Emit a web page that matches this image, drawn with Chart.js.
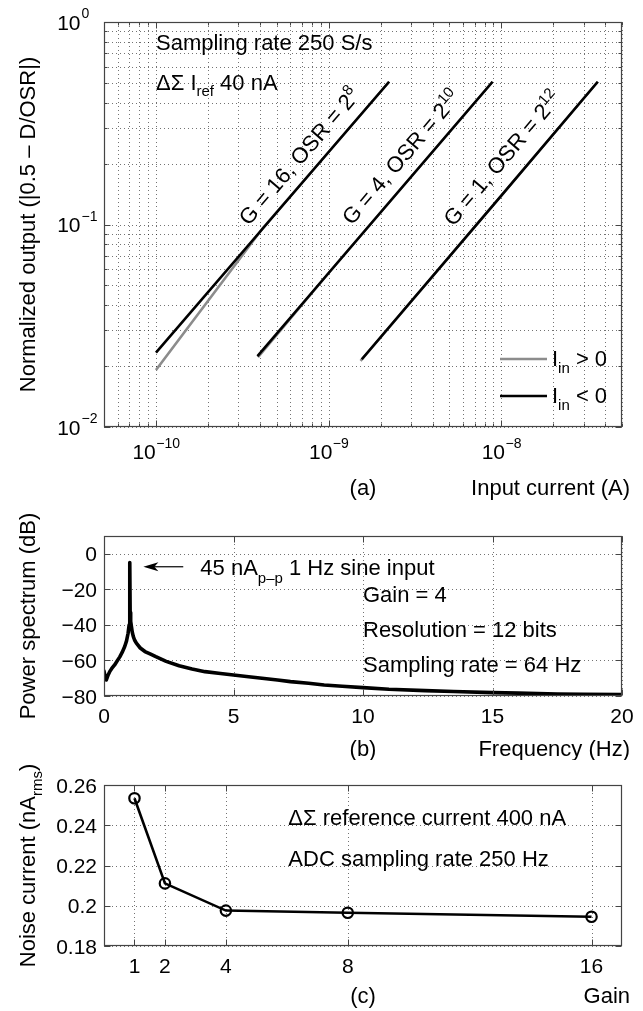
<!DOCTYPE html>
<html><head><meta charset="utf-8">
<script src="https://cdn.jsdelivr.net/npm/chart.js@4.4.1/dist/chart.umd.min.js"></script>
<style>
html,body{margin:0;padding:0;background:#fff;}
#wrap{position:relative;width:643px;height:1011px;overflow:hidden;background:#fff;}
canvas{position:absolute;left:0;}
</style></head><body>
<div id="wrap">
<canvas id="ca" width="643" height="500" style="top:0px"></canvas>
<canvas id="cb" width="643" height="260" style="top:500px"></canvas>
<canvas id="cc" width="643" height="251" style="top:760px"></canvas>
</div>
<script>
// ---------------- DATA: panel (a) ----------------
const currentG16Pos = [1.0e-10, 4.15e-10, 1.0e-9, 2.24e-9];
const outputG16Pos  = [0.0191, 0.0958, 0.228, 0.507];
const currentG16Neg = [1.0e-10, 1.0e-9, 2.24e-9];
const outputG16Neg  = [0.0233, 0.228, 0.507];
const currentG4Pos  = [3.9e-10, 1.0e-9, 8.9e-9];
const outputG4Pos   = [0.0221, 0.0576, 0.507];
const currentG4Neg  = [3.87e-10, 1.0e-9, 8.9e-9];
const outputG4Neg   = [0.0224, 0.0576, 0.507];
const currentG1Pos  = [1.53e-9, 1.0e-8, 3.62e-8];
const outputG1Pos   = [0.0212, 0.139, 0.507];
const currentG1Neg  = [1.556e-9, 1.0e-8, 3.62e-8];
const outputG1Neg   = [0.0216, 0.139, 0.507];
const aXTickValues = [1e-10, 1e-9, 1e-8];
const aXTickExps   = ['\u221210', '\u22129', '\u22128'];
const aYTickValues = [1e-2, 1e-1, 1];
const aYTickExps   = ['\u22122', '\u22121', '0'];
const logMantissas = [1,2,3,4,5,6,7,8,9];

// ---------------- DATA: panel (b) ----------------
const freqHz  = [0, 0.04, 0.09, 0.15, 0.22, 0.3, 0.41, 0.5, 0.61, 0.7,
                 0.8, 0.87, 0.93, 0.97, 0.99, 1.0, 1.01, 1.03, 1.06, 1.09,
                 1.13, 1.18, 1.25, 1.4, 1.58, 1.8, 2.0, 2.4, 2.9, 3.4,
                 3.9, 4.5, 5.0, 5.5, 6.1, 6.7, 7.2, 7.9, 8.5, 9.2,
                 10.0, 11.0, 12.4, 13.5, 15.0, 16.0, 17.5, 18.5, 20.0];
const powerDb = [-66, -69, -71, -68.5, -66.3, -64.5, -62.5, -60.5, -58, -55.5,
                 -52.2, -49, -44.7, -40, -35, -4.9, -33, -38, -41, -44,
                 -46.5, -48.5, -50.3, -53, -55, -56.5, -57.9, -60.5, -63, -64.8,
                 -66.3, -67.3, -68.2, -69, -70, -71, -71.9, -72.8, -73.8, -74.5,
                 -75.3, -76.2, -77, -77.5, -78.1, -78.4, -78.9, -79, -79.2];
const bXTicks = [0, 5, 10, 15, 20];
const bYTicks = [0, -20, -40, -60, -80];
const bYTickLabels = ['0', '\u221220', '\u221240', '\u221260', '\u221280'];

// ---------------- DATA: panel (c) ----------------
const gains   = [1, 2, 4, 8, 16];
const noiseNA = [0.2534, 0.2111, 0.1976, 0.1965, 0.1945];
const cXTicks = [1, 2, 4, 8, 16];
const cYTicks = [0.18, 0.2, 0.22, 0.24, 0.26];
const cYTickLabels = ['0.18', '0.2', '0.22', '0.24', '0.26'];

// ---------------- helpers ----------------
const FONT = '"Liberation Sans", Arial, Helvetica, sans-serif';
const TXT = 22, TICK = 21, SMALL = 15;
function fnt(s){ return s + 'px ' + FONT; }
function zip(xs, ys){ return xs.map((v,i)=>({x:v, y:ys[i]})); }
function ln(ctx,x1,y1,x2,y2){ ctx.beginPath(); ctx.moveTo(x1,y1); ctx.lineTo(x2,y2); ctx.stroke(); }
// parts: [text, size, dy]
function rich(ctx, parts, x, y, align){
  let total = 0;
  const w = parts.map(p=>{ ctx.font = fnt(p[1]); const m = ctx.measureText(p[0]).width; total += m; return m; });
  let cx = align==='center' ? x - total/2 : (align==='right' ? x - total : x);
  ctx.textAlign = 'left'; ctx.textBaseline = 'alphabetic'; ctx.fillStyle = '#000';
  parts.forEach((p,i)=>{ ctx.font = fnt(p[1]); ctx.fillText(p[0], cx, y + (p[2]||0)); cx += w[i]; });
}
function mid(size){ return 0.36*size; }
function decadeGrid(lo, hi){
  const out = [];
  for (let e = Math.floor(Math.log10(lo)); e <= Math.ceil(Math.log10(hi)); e++){
    logMantissas.forEach(m=>{ const v = m*Math.pow(10,e); if (v >= lo*0.999 && v <= hi*1.001) out.push(v); });
  }
  return out;
}
function gridDots(chart, xs, ys){
  const {ctx, chartArea:ca, scales:{x,y}} = chart;
  ctx.save(); ctx.setLineDash([1,3]); ctx.strokeStyle = 'rgba(0,0,0,0.55)'; ctx.lineWidth = 1;
  xs.forEach(v=>{ const p = Math.round(x.getPixelForValue(v))+0.5; ln(ctx,p,ca.top,p,ca.bottom); });
  ys.forEach(v=>{ const p = Math.round(y.getPixelForValue(v))+0.5; ln(ctx,ca.left,p,ca.right,p); });
  ctx.restore();
}
function frameTicks(chart, xMaj, yMaj, xMin, yMin){
  const {ctx, chartArea:ca, scales:{x,y}} = chart;
  ctx.save(); ctx.setLineDash([]); ctx.strokeStyle = '#444'; ctx.lineWidth = 1.2;
  const L = Math.round(ca.left)+0.5, R = Math.round(ca.right)-0.5, T = Math.round(ca.top)+0.5, B = Math.round(ca.bottom)-0.5;
  ctx.strokeRect(L, T, R-L, B-T);
  ctx.lineWidth = 1;
  const xt = (vals,len)=>vals.forEach(v=>{ const p = Math.round(x.getPixelForValue(v))+0.5; ln(ctx,p,B,p,B-len); ln(ctx,p,T,p,T+len); });
  const yt = (vals,len)=>vals.forEach(v=>{ const p = Math.round(y.getPixelForValue(v))+0.5; ln(ctx,L,p,L+len,p); ln(ctx,R,p,R-len,p); });
  xt(xMaj,6); yt(yMaj,6);
  if (xMin) xt(xMin,3);
  if (yMin) yt(yMin,3);
  ctx.restore();
}
function yTitle(ctx, parts, cx, cy){
  ctx.save(); ctx.translate(cx, cy); ctx.rotate(-Math.PI/2);
  rich(ctx, parts, 0, mid(TXT), 'center'); ctx.restore();
}
const fixW = w => (s)=>{ s.width = w; };
const fixH = h => (s)=>{ s.height = h; };
const baseOpts = (padTop, xH, xScale, yScale)=>({
  responsive:false, animation:false, devicePixelRatio:1,
  layout:{padding:{top:padTop, right:21, left:0, bottom:0}},
  plugins:{legend:{display:false}, tooltip:{enabled:false}},
  elements:{point:{radius:0}, line:{tension:0}},
  scales:{
    x: Object.assign({ticks:{display:false}, grid:{display:false}, border:{display:false}, afterFit:fixH(xH)}, xScale),
    y: Object.assign({ticks:{display:false}, grid:{display:false}, border:{display:false}, afterFit:fixW(104)}, yScale)
  }
});

// ---------------- annotations (positions in data space) ----------------
const annA = {
  notes: [
    {x:1e-10, y:0.80,  parts:[['Sampling rate 250 S/s',TXT]]},
    {x:1e-10, y:0.507, parts:[['\u0394\u03A3 I',TXT],['ref',SMALL,6],[' 40 nA',TXT]]}
  ],
  rotated: [
    {x:6.73e-10, y:0.218,  parts:[['G = 16, OSR = 2',TXT],['8',SMALL,-9]],  lineX:currentG16Neg, lineY:outputG16Neg},
    {x:2.62e-9,  y:0.2155, parts:[['G = 4, OSR = 2',TXT],['10',SMALL,-9]],  lineX:currentG4Neg, lineY:outputG4Neg},
    {x:1.009e-8, y:0.213,  parts:[['G = 1, OSR = 2',TXT],['12',SMALL,-9]],  lineX:currentG1Neg, lineY:outputG1Neg}
  ]
};
const annB = [
  {x:10.0, y:-22.5, parts:[['Gain = 4',TXT]]},
  {x:10.0, y:-42.3, parts:[['Resolution = 12 bits',TXT]]},
  {x:10.0, y:-62.0, parts:[['Sampling rate = 64 Hz',TXT]]}
];
const annBArrow = {x0:3.06, x1:1.52, y:-7.3, textX:3.72};
const annC = [
  {x:6.05, y:0.2441, parts:[['\u0394\u03A3 reference current 400 nA',TXT]]},
  {x:6.05, y:0.2237, parts:[['ADC sampling rate 250 Hz',TXT]]}
];

// ---------------- panel (a) ----------------
const aXMin = 5e-11, aXMax = 5e-8, aYMin = 0.01, aYMax = 1;
const plugA = {
  id:'pa',
  beforeDatasetsDraw(chart){ gridDots(chart, decadeGrid(aXMin,aXMax), decadeGrid(aYMin,aYMax)); },
  afterDatasetsDraw(chart){
    const {ctx, chartArea:ca, scales:{x,y}} = chart;
    const xg = decadeGrid(aXMin,aXMax), yg = decadeGrid(aYMin,aYMax);
    frameTicks(chart, aXTickValues, aYTickValues, xg, yg);
    aYTickValues.forEach((v,i)=>{
      const p = y.getPixelForValue(v);
      rich(ctx, [['10',TICK]], 80.5, p + mid(TICK), 'right');
      rich(ctx, [[aYTickExps[i],14]], 81.5, p - 4, 'left');
    });
    aXTickValues.forEach((v,i)=>{
      const p = x.getPixelForValue(v);
      ctx.font = fnt(TICK); const w1 = ctx.measureText('10').width;
      ctx.font = fnt(14); const w2 = ctx.measureText(aXTickExps[i]).width;
      const s = p - (w1+w2)/2;
      rich(ctx, [['10',TICK]], s, 459, 'left');
      rich(ctx, [[aXTickExps[i],14]], s + w1 + 0.5, 448, 'left');
    });
    yTitle(ctx, [['Normalized output (|0.5 \u2013 D/OSR|)',TXT]], 27, (ca.top+ca.bottom)/2);
    rich(ctx, [['(a)',TXT]], (ca.left+ca.right)/2, 487 + mid(TXT), 'center');
    rich(ctx, [['Input current (A)',TXT]], 630, 487 + mid(TXT), 'right');
    annA.notes.forEach(n=>{ rich(ctx, n.parts, x.getPixelForValue(n.x), y.getPixelForValue(n.y) + mid(TXT), 'left'); });
    annA.rotated.forEach(n=>{
      const x0 = x.getPixelForValue(n.lineX[0]), y0 = y.getPixelForValue(n.lineY[0]);
      const x1 = x.getPixelForValue(n.lineX[n.lineX.length-1]), y1 = y.getPixelForValue(n.lineY[n.lineY.length-1]);
      ctx.save(); ctx.translate(x.getPixelForValue(n.x), y.getPixelForValue(n.y));
      ctx.rotate(Math.atan2(y1-y0, x1-x0));
      rich(ctx, n.parts, 0, mid(TXT), 'center'); ctx.restore();
    });
    const rows = [{c:'#8c8c8c', t:' > 0', yy:ca.bottom-68}, {c:'#000', t:' < 0', yy:ca.bottom-31}];
    rows.forEach(r=>{
      ctx.save(); ctx.strokeStyle = r.c; ctx.lineWidth = 2.6; ln(ctx, ca.right-122, r.yy, ca.right-75, r.yy); ctx.restore();
      rich(ctx, [['I',TXT],['in',SMALL,7],[r.t,TXT]], ca.right-70, r.yy + mid(TXT) - 1, 'left');
    });
  }
};
const grayA = '#8c8c8c';
new Chart(document.getElementById('ca'), {
  type:'line',
  data:{datasets:[
    {label:'G16 Iin>0', data:zip(currentG16Pos,outputG16Pos), borderColor:grayA, borderWidth:2.6, order:2},
    {label:'G4 Iin>0',  data:zip(currentG4Pos,outputG4Pos),   borderColor:grayA, borderWidth:2.6, order:2},
    {label:'G1 Iin>0',  data:zip(currentG1Pos,outputG1Pos),   borderColor:grayA, borderWidth:2.6, order:2},
    {label:'G16 Iin<0', data:zip(currentG16Neg,outputG16Neg), borderColor:'#000', borderWidth:2.6, order:1},
    {label:'G4 Iin<0',  data:zip(currentG4Neg,outputG4Neg),   borderColor:'#000', borderWidth:2.6, order:1},
    {label:'G1 Iin<0',  data:zip(currentG1Neg,outputG1Neg),   borderColor:'#000', borderWidth:2.6, order:1}
  ]},
  options: baseOpts(22, 73, {type:'logarithmic', min:aXMin, max:aXMax}, {type:'logarithmic', min:aYMin, max:aYMax}),
  plugins:[plugA]
});

// ---------------- panel (b) ----------------
const plugB = {
  id:'pb',
  beforeDatasetsDraw(chart){ gridDots(chart, bXTicks, bYTicks); },
  afterDatasetsDraw(chart){
    const {ctx, chartArea:ca, scales:{x,y}} = chart;
    frameTicks(chart, bXTicks, bYTicks);
    bYTicks.forEach((v,i)=>rich(ctx, [[bYTickLabels[i],TICK]], 97, y.getPixelForValue(v)+mid(TICK), 'right'));
    bXTicks.forEach(v=>rich(ctx, [[String(v),TICK]], x.getPixelForValue(v), 215.5+mid(TICK), 'center'));
    yTitle(ctx, [['Power spectrum (dB)',TXT]], 27, (ca.top+ca.bottom)/2);
    rich(ctx, [['(b)',TXT]], (ca.left+ca.right)/2, 248+mid(TXT), 'center');
    rich(ctx, [['Frequency (Hz)',TXT]], 630, 248+mid(TXT), 'right');
    annB.forEach(n=>rich(ctx, n.parts, x.getPixelForValue(n.x), y.getPixelForValue(n.y)+mid(TXT), 'left'));
    const ay = y.getPixelForValue(annBArrow.y), ax0 = x.getPixelForValue(annBArrow.x0), ax1 = x.getPixelForValue(annBArrow.x1);
    ctx.save(); ctx.strokeStyle = '#000'; ctx.fillStyle = '#000'; ctx.lineWidth = 1.2;
    ln(ctx, ax0, ay, ax1+10, ay);
    ctx.beginPath(); ctx.moveTo(ax1, ay); ctx.lineTo(ax1+15, ay-4.5); ctx.lineTo(ax1+11, ay); ctx.lineTo(ax1+15, ay+4.5); ctx.closePath(); ctx.fill();
    ctx.restore();
    rich(ctx, [['45 nA',TXT],['p\u2013p',SMALL,8],[' 1 Hz sine input',TXT]], x.getPixelForValue(annBArrow.textX), ay+mid(TXT), 'left');
  }
};
new Chart(document.getElementById('cb'), {
  type:'line',
  data:{datasets:[{label:'Power spectrum', data:zip(freqHz,powerDb), borderColor:'#000', borderWidth:3.6, borderJoinStyle:'round', borderCapStyle:'round'}]},
  options: baseOpts(36, 64, {type:'linear', min:0, max:20}, {type:'linear', min:-80, max:10}),
  plugins:[plugB]
});

// ---------------- panel (c) ----------------
const plugC = {
  id:'pc',
  beforeDatasetsDraw(chart){ gridDots(chart, cXTicks, cYTicks); },
  afterDatasetsDraw(chart){
    const {ctx, chartArea:ca, scales:{x,y}} = chart;
    frameTicks(chart, cXTicks, cYTicks);
    cYTicks.forEach((v,i)=>rich(ctx, [[cYTickLabels[i],TICK]], 97, y.getPixelForValue(v)+mid(TICK), 'right'));
    cXTicks.forEach(v=>rich(ctx, [[String(v),TICK]], x.getPixelForValue(v), 205+mid(TICK), 'center'));
    yTitle(ctx, [['Noise current (nA',TXT],['rms',SMALL,7],[')',TXT]], 27, (ca.top+ca.bottom)/2);
    rich(ctx, [['(c)',TXT]], (ca.left+ca.right)/2, 235+mid(TXT), 'center');
    rich(ctx, [['Gain',TXT]], 630, 235+mid(TXT), 'right');
    annC.forEach(n=>rich(ctx, n.parts, x.getPixelForValue(n.x), y.getPixelForValue(n.y)+mid(TXT), 'left'));
  }
};
new Chart(document.getElementById('cc'), {
  type:'line',
  data:{datasets:[{label:'Noise current', data:zip(gains,noiseNA), borderColor:'#000', borderWidth:2.6,
    pointRadius:5.2, pointBorderWidth:2.2, pointBorderColor:'#000', pointBackgroundColor:'rgba(255,255,255,0)', pointStyle:'circle'}]},
  options: baseOpts(25, 65, {type:'linear', min:0, max:17}, {type:'linear', min:0.18, max:0.26}),
  plugins:[plugC]
});
</script>
</body></html>
